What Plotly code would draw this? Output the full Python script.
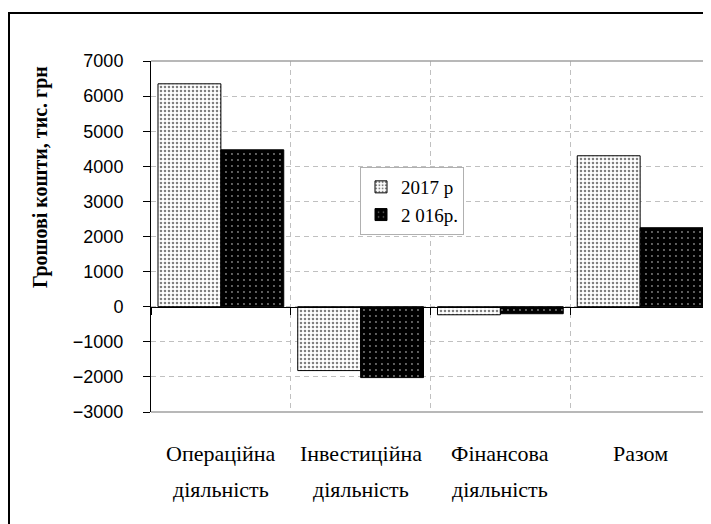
import plotly.graph_objects as go

# ---- data ----
categories = ["Операційна діяльність", "Інвестиційна діяльність",
              "Фінансова діяльність", "Разом"]
cat_line1 = ["Операційна", "Інвестиційна", "Фінансова", "Разом"]
cat_line2 = ["діяльність", "діяльність", "діяльність", ""]
series_names = ["2017 р", "2 016р."]
values_2017 = [6350, -1820, -230, 4300]
values_2016 = [4470, -2020, -200, 2250]
y_ticks = [-3000, -2000, -1000, 0, 1000, 2000, 3000, 4000, 5000, 6000, 7000]
y_title = "Грошові кошти, тис. грн"

OFF = 8  # page body margin offset
W, H = 711 - OFF, 524 - OFF
L, R, T, B = 151 - OFF, 1, 61 - OFF, 112
pw, ph = W - L - R, H - T - B

def px_x(x):
    return (x - OFF - L) / pw

def px_y(y):
    return (H - B - (y - OFF)) / ph

serif = "Liberation Serif"
sans = "Liberation Sans"

fig = go.Figure()
fig.add_trace(go.Bar(
    x=categories, y=values_2017, name=series_names[0],
    marker=dict(color="white", line=dict(color="black", width=1),
                pattern=dict(shape=".", fgcolor="black", bgcolor="white",
                             size=4, solidity=0.32)),
))
fig.add_trace(go.Bar(
    x=categories, y=values_2016, name=series_names[1],
    marker=dict(color="black", line=dict(color="black", width=1),
                pattern=dict(shape=".", fgcolor="white", bgcolor="black",
                             size=6, solidity=0.08)),
))

grid_col = "#c0c0c0"
fig.update_layout(
    width=W, height=H,
    margin=dict(l=L, r=R, t=T, b=B, pad=0, autoexpand=False),
    paper_bgcolor="white", plot_bgcolor="white",
    barmode="group", bargap=0.1, bargroupgap=0,
    showlegend=True,
    legend=dict(x=px_x(360), y=px_y(167), xanchor="left", yanchor="top",
                bordercolor="#b0b0b0", borderwidth=1, bgcolor="white",
                font=dict(family=serif, size=19, color="black"),
                tracegroupgap=0, itemwidth=30),
    xaxis=dict(type="category", tickson="boundaries", showticklabels=False,
               anchor="free", position=0.3, showline=True, linecolor="black",
               linewidth=1, ticks="outside", ticklen=7, tickcolor="black",
               showgrid=True, gridcolor=grid_col, griddash="5px,4px",
               gridwidth=1, zeroline=False, range=[-0.5, 3.5], fixedrange=True),
    yaxis=dict(range=[-3000, 7000], tickvals=y_ticks, showline=True,
               linecolor="black", linewidth=1, ticks="outside", ticklen=7,
               tickcolor="black", ticklabelstandoff=16, automargin=False,
               tickfont=dict(family=sans, size=18, color="black"),
               showgrid=True, gridcolor=grid_col, griddash="5px,4px",
               gridwidth=1, zeroline=False),
)

# plot area border (gray) top, right, bottom
for (x0, y0, x1, y1) in [(0, 1, 1, 1), (1, 0, 1, 1), (0, 0, 1, 0)]:
    fig.add_shape(type="line", xref="paper", yref="paper", x0=x0, y0=y0,
                  x1=x1, y1=y1, line=dict(color="#a0a0a0", width=1.5))

# outer frame
fig.add_shape(type="rect", xref="paper", yref="paper",
              x0=px_x(9), y0=px_y(13), x1=px_x(730), y1=px_y(560),
              line=dict(color="black", width=2))

# y title
fig.add_annotation(text="<b>" + y_title + "</b>", textangle=-90,
                   xref="paper", yref="paper", x=px_x(40), y=px_y(177),
                   xanchor="center", yanchor="middle", showarrow=False,
                   font=dict(family=serif, size=20, color="black"))

# category labels
for c, l1, l2 in zip(categories, cat_line1, cat_line2):
    fig.add_annotation(text=l1, x=c, xref="x", yref="paper", y=px_y(453),
                       xanchor="center", yanchor="middle", showarrow=False,
                       font=dict(family=serif, size=22, color="black"))
    if l2:
        fig.add_annotation(text=l2, x=c, xref="x", yref="paper", y=px_y(489),
                           xanchor="center", yanchor="middle", showarrow=False,
                           font=dict(family=serif, size=22, color="black"))

fig.write_html("out.html")
